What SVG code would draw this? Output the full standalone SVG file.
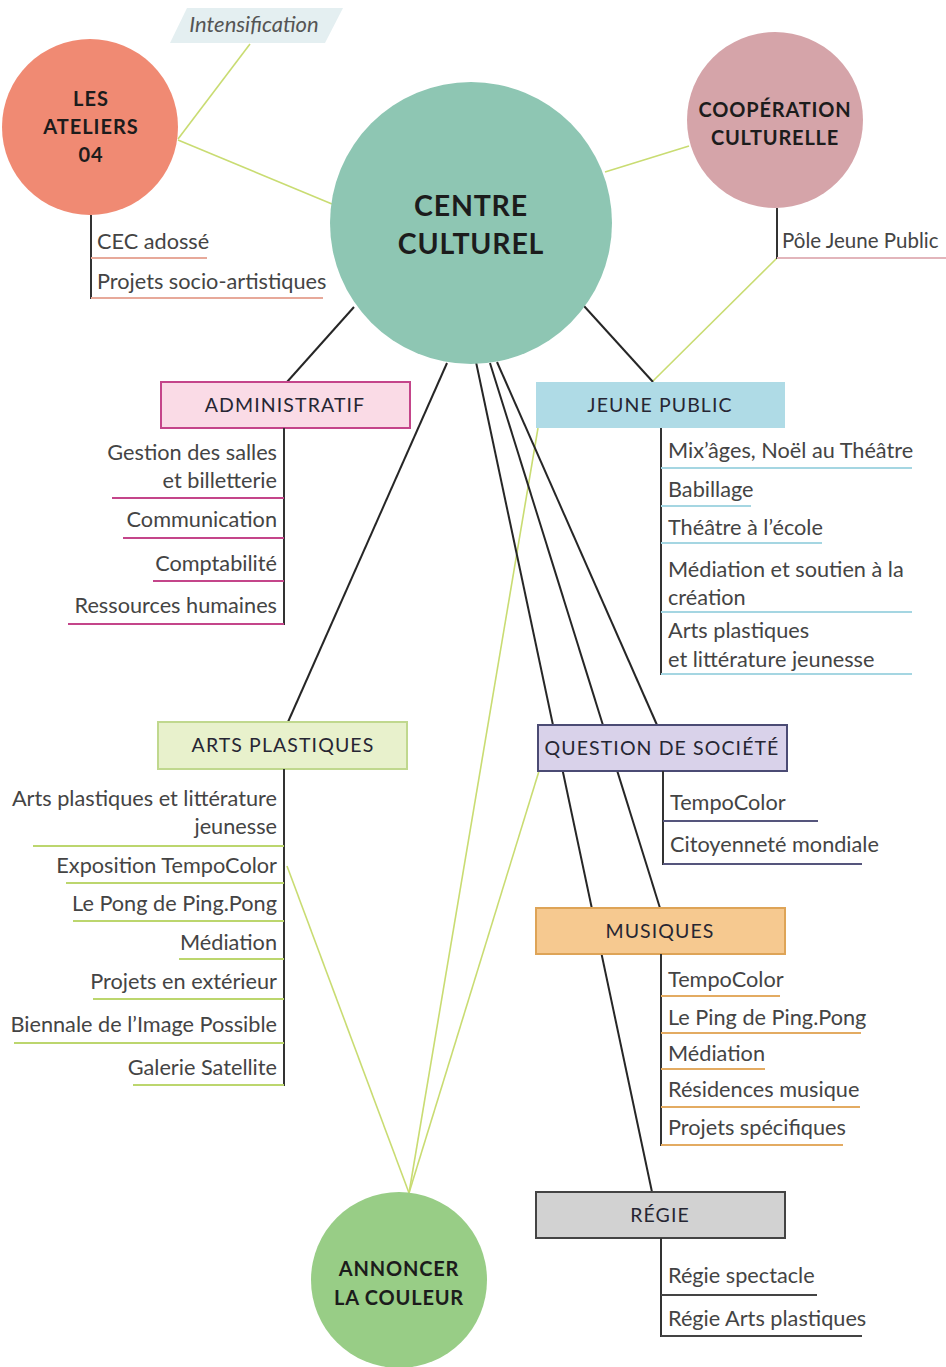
<svg xmlns="http://www.w3.org/2000/svg" width="946" height="1367" viewBox="0 0 946 1367">
<style>
.bg{fill:#ffffff}
.ln{stroke:#262626;stroke-width:2;fill:none}
.gl{stroke:#c9dc72;stroke-width:1.6;fill:none}
.ctext{font-family:Lato,"Open Sans",sans-serif;font-weight:bold;fill:#1c1c1c;text-anchor:middle}
.htext{font-family:Lato,"Open Sans",sans-serif;font-size:19.5px;fill:#262633;text-anchor:middle;letter-spacing:1.1px}
.it{font-family:Lato,"Open Sans",sans-serif;font-size:21.7px;fill:#444}
.r{text-anchor:end}
.stem{stroke:#333;stroke-width:2}
</style>
<rect class="bg" x="0" y="0" width="946" height="1367"/>

<g id="connectors">
  <line class="gl" x1="250" y1="44" x2="178" y2="139"/>
  <line class="gl" x1="178" y1="140" x2="332" y2="204"/>
  <line class="gl" x1="605" y1="172" x2="689" y2="146"/>
  <line class="gl" x1="777" y1="258" x2="653" y2="381"/>
  <line class="gl" x1="287" y1="866" x2="409" y2="1193"/>
  <line class="gl" x1="538" y1="428" x2="409" y2="1193"/>
  <line class="gl" x1="539" y1="771" x2="409" y2="1193"/>
  <line class="ln" x1="584" y1="306" x2="653" y2="382"/>
  <line class="ln" x1="354" y1="307" x2="287" y2="382"/>
  <line class="ln" x1="447" y1="363" x2="288" y2="722"/>
  <line class="ln" x1="476" y1="362" x2="652" y2="1192"/>
  <line class="ln" x1="490" y1="363" x2="660" y2="908"/>
  <line class="ln" x1="497" y1="362" x2="657" y2="725"/>
</g>

<g id="intensification">
  <polygon points="187,8 343,8 325,43 170,43" fill="#e4eff1"/>
  <text x="254" y="32" font-family="Lato,'Open Sans',sans-serif" font-size="22" font-style="italic" fill="#555" text-anchor="middle">Intensification</text>
</g>

<g id="ateliers">
  <circle cx="90" cy="127" r="88" fill="#f08a73"/>
  <text class="ctext" font-size="20" letter-spacing="1" x="91" y="106">LES</text>
  <text class="ctext" font-size="20" letter-spacing="1" x="91" y="134">ATELIERS</text>
  <text class="ctext" font-size="20" letter-spacing="1" x="91" y="162">04</text>
  <line class="stem" x1="91" y1="215" x2="91" y2="299"/>
  <text class="it" x="97" y="249">CEC adossé</text>
  <line x1="91" y1="258" x2="207" y2="258" stroke="#e7a99a" stroke-width="2"/>
  <text class="it" x="97" y="289">Projets socio-artistiques</text>
  <line x1="91" y1="298" x2="323" y2="298" stroke="#e7a99a" stroke-width="2"/>
</g>

<g id="centre">
  <circle cx="471" cy="223" r="141" fill="#8ec6b3"/>
  <text class="ctext" font-size="28.5" letter-spacing="0.8" x="471" y="216">CENTRE</text>
  <text class="ctext" font-size="28.5" letter-spacing="0.8" x="471" y="254">CULTUREL</text>
</g>

<g id="cooperation">
  <circle cx="775" cy="120" r="88" fill="#d5a4a9"/>
  <text class="ctext" font-size="20" letter-spacing="0.8" x="775" y="117">COOPÉRATION</text>
  <text class="ctext" font-size="20" letter-spacing="0.8" x="775" y="145">CULTURELLE</text>
  <line class="stem" x1="777" y1="208" x2="777" y2="259"/>
  <text class="it" x="782" y="248" style="font-size:20.5px">Pôle Jeune Public</text>
  <line x1="777" y1="258" x2="946" y2="258" stroke="#e2b5bb" stroke-width="2"/>
</g>

<g id="administratif">
  <rect x="161" y="382" width="249" height="46" fill="#fadbe6" stroke="#c4458a" stroke-width="2"/>
  <text class="htext" x="285" y="412">ADMINISTRATIF</text>
  <line class="stem" x1="284" y1="428" x2="284" y2="625"/>
  <g stroke="#c4458a" stroke-width="2">
    <line x1="112" y1="498" x2="284" y2="498"/>
    <line x1="123" y1="538" x2="284" y2="538"/>
    <line x1="153" y1="581" x2="284" y2="581"/>
    <line x1="68" y1="624" x2="284" y2="624"/>
  </g>
  <text class="it r" x="277" y="460">Gestion des salles</text>
  <text class="it r" x="277" y="488">et billetterie</text>
  <text class="it r" x="277" y="527">Communication</text>
  <text class="it r" x="277" y="571">Comptabilité</text>
  <text class="it r" x="277" y="613">Ressources humaines</text>
</g>

<g id="jeune-public">
  <rect x="536" y="382" width="249" height="46" fill="#afdbe6"/>
  <text class="htext" x="660" y="412">JEUNE PUBLIC</text>
  <line class="stem" x1="661" y1="428" x2="661" y2="675"/>
  <g stroke="#a5d6e2" stroke-width="2">
    <line x1="661" y1="468" x2="912" y2="468"/>
    <line x1="661" y1="506" x2="751" y2="506"/>
    <line x1="661" y1="543" x2="822" y2="543"/>
    <line x1="661" y1="612" x2="912" y2="612"/>
    <line x1="661" y1="674" x2="912" y2="674"/>
  </g>
  <text class="it" x="668" y="458">Mix’âges, Noël au Théâtre</text>
  <text class="it" x="668" y="497">Babillage</text>
  <text class="it" x="668" y="535">Théâtre à l’école</text>
  <text class="it" x="668" y="577">Médiation et soutien à la</text>
  <text class="it" x="668" y="605">création</text>
  <text class="it" x="668" y="638">Arts plastiques</text>
  <text class="it" x="668" y="667">et littérature jeunesse</text>
</g>

<g id="arts-plastiques">
  <rect x="158" y="722" width="249" height="47" fill="#e8f1cc" stroke="#c0d88e" stroke-width="2"/>
  <text class="htext" x="283" y="752">ARTS PLASTIQUES</text>
  <line class="stem" x1="284" y1="769" x2="284" y2="1086"/>
  <g stroke="#bcd66e" stroke-width="2">
    <line x1="33" y1="846" x2="284" y2="846"/>
    <line x1="66" y1="883" x2="284" y2="883"/>
    <line x1="73" y1="921" x2="284" y2="921"/>
    <line x1="179" y1="959" x2="284" y2="959"/>
    <line x1="93" y1="999" x2="284" y2="999"/>
    <line x1="14" y1="1043" x2="284" y2="1043"/>
    <line x1="133" y1="1085" x2="284" y2="1085"/>
  </g>
  <text class="it r" x="277" y="806">Arts plastiques et littérature</text>
  <text class="it r" x="277" y="834">jeunesse</text>
  <text class="it r" x="277" y="873">Exposition TempoColor</text>
  <text class="it r" x="277" y="911">Le Pong de Ping.Pong</text>
  <text class="it r" x="277" y="950">Médiation</text>
  <text class="it r" x="277" y="989">Projets en extérieur</text>
  <text class="it r" x="277" y="1032">Biennale de l’Image Possible</text>
  <text class="it r" x="277" y="1075">Galerie Satellite</text>
</g>

<g id="question-de-societe">
  <rect x="538" y="725" width="249" height="46" fill="#d9d2ea" stroke="#4b4b74" stroke-width="2"/>
  <text class="htext" x="662" y="755">QUESTION DE SOCIÉTÉ</text>
  <line class="stem" x1="663" y1="771" x2="663" y2="865"/>
  <g stroke="#55557c" stroke-width="2">
    <line x1="663" y1="821" x2="818" y2="821"/>
    <line x1="663" y1="864" x2="862" y2="864"/>
  </g>
  <text class="it" x="670" y="810">TempoColor</text>
  <text class="it" x="670" y="852">Citoyenneté mondiale</text>
</g>

<g id="musiques">
  <rect x="536" y="908" width="249" height="46" fill="#f6c990" stroke="#dea457" stroke-width="2"/>
  <text class="htext" x="660" y="938">MUSIQUES</text>
  <line class="stem" x1="661" y1="954" x2="661" y2="1146"/>
  <g stroke="#e3ab62" stroke-width="2">
    <line x1="661" y1="996" x2="780" y2="996"/>
    <line x1="661" y1="1033" x2="861" y2="1033"/>
    <line x1="661" y1="1069" x2="765" y2="1069"/>
    <line x1="661" y1="1107" x2="860" y2="1107"/>
    <line x1="661" y1="1145" x2="843" y2="1145"/>
  </g>
  <text class="it" x="668" y="987">TempoColor</text>
  <text class="it" x="668" y="1025">Le Ping de Ping.Pong</text>
  <text class="it" x="668" y="1061">Médiation</text>
  <text class="it" x="668" y="1097">Résidences musique</text>
  <text class="it" x="668" y="1135">Projets spécifiques</text>
</g>

<g id="regie">
  <rect x="536" y="1192" width="249" height="46" fill="#d2d2d2" stroke="#444" stroke-width="2"/>
  <text class="htext" x="660" y="1222">RÉGIE</text>
  <line class="stem" x1="661" y1="1238" x2="661" y2="1337"/>
  <g stroke="#444" stroke-width="2">
    <line x1="661" y1="1295" x2="817" y2="1295"/>
    <line x1="661" y1="1336" x2="862" y2="1336"/>
  </g>
  <text class="it" x="668" y="1283">Régie spectacle</text>
  <text class="it" x="668" y="1326">Régie Arts plastiques</text>
</g>

<g id="annoncer">
  <ellipse cx="399" cy="1280" rx="88" ry="88" fill="#98cd86"/>
  <text class="ctext" font-size="20" letter-spacing="0.8" x="399" y="1276">ANNONCER</text>
  <text class="ctext" font-size="20" letter-spacing="0.8" x="399" y="1305">LA COULEUR</text>
</g>
</svg>
